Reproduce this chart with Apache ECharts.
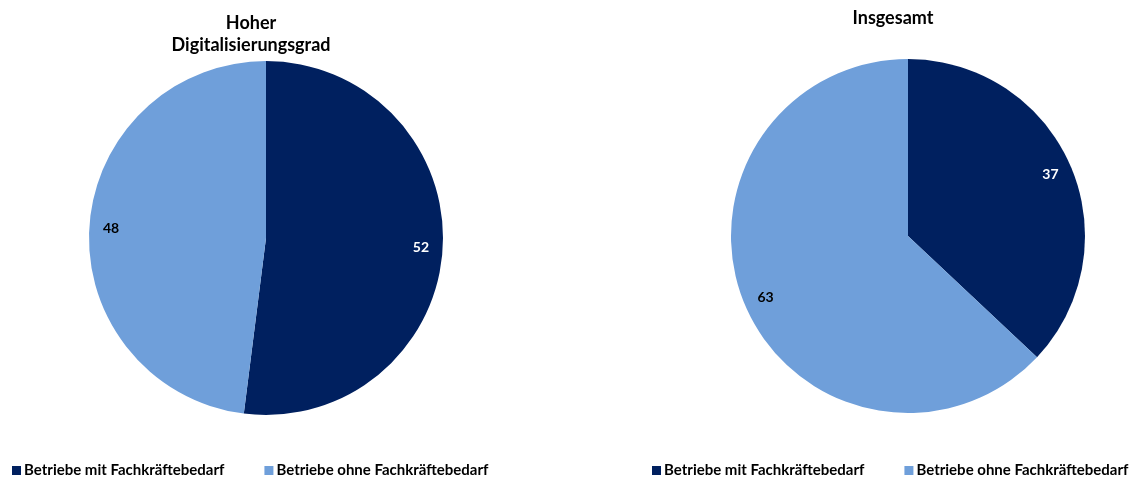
<!DOCTYPE html>
<html>
<head>
<meta charset="utf-8">
<script src="https://cdn.jsdelivr.net/npm/echarts@6/dist/echarts.min.js"></script>
<style>
  html, body { margin: 0; padding: 0; background: #fff; }
  #chart { width: 1134px; height: 484px; }
</style>
</head>
<body>
<div id="chart"></div>
<script>
// Kategorien und Anteile (in %)
const categories = ['Betriebe mit Fachkräftebedarf', 'Betriebe ohne Fachkräftebedarf'];
const hoherDigitalisierungsgrad = [52, 48];
const insgesamt = [37, 63];
const titles = ['Hoher\nDigitalisierungsgrad', 'Insgesamt'];

const colors = ['#00205F', '#6F9FDA'];
const labelColors = ['#ffffff', '#000000'];
const fontFamily = 'Lato, "Open Sans", sans-serif';

function toData(values) {
  return values.map((v, i) => ({
    name: categories[i],
    value: v,
    itemStyle: { color: colors[i] }
  }));
}

const R = 177;
const pies = [
  { values: hoherDigitalisierungsgrad, center: [266, 238] },
  { values: insgesamt, center: [908, 236] }
];

const series = [];
pies.forEach(p => {
  // Tortenstücke
  series.push({
    type: 'pie',
    center: p.center,
    radius: [0, R],
    startAngle: 90,
    clockwise: true,
    silent: true,
    label: { show: false },
    labelLine: { show: false },
    itemStyle: { borderWidth: 0 },
    data: toData(p.values)
  });
  // Wertbeschriftungen nahe am Rand (Ring, dessen Mitte die Beschriftung trägt)
  series.push({
    type: 'pie',
    center: p.center,
    radius: [R * 0.72, R],
    startAngle: 90,
    clockwise: true,
    silent: true,
    legendHoverLink: false,
    itemStyle: { color: 'rgba(0,0,0,0)', borderWidth: 0 },
    label: {
      show: true,
      position: 'inside',
      formatter: '{c}',
      fontFamily: fontFamily,
      fontWeight: 'bold',
      fontSize: 14
    },
    labelLine: { show: false },
    data: p.values.map((v, i) => ({
      name: categories[i] + ' ',
      value: v,
      label: { color: labelColors[i] },
      itemStyle: { color: 'rgba(0,0,0,0)' }
    }))
  });
});

const legendBase = {
  data: categories,
  top: 463,
  padding: 0,
  icon: 'rect',
  itemWidth: 9,
  itemHeight: 9,
  itemGap: 40,
  selectedMode: false,
  textStyle: { fontFamily: fontFamily, fontWeight: 'bold', fontSize: 15, color: '#000', padding: [0, 0, 0, -2] }
};

const chart = echarts.init(document.getElementById('chart'), null, { renderer: 'canvas' });
chart.setOption({
  animation: false,
  backgroundColor: '#ffffff',
  title: [
    {
      text: titles[0],
      left: 246,
      top: 7,
      textAlign: 'center',
      textStyle: { fontFamily: fontFamily, fontWeight: 'bold', fontSize: 18, color: '#000', lineHeight: 22 }
    },
    {
      text: titles[1],
      left: 888,
      top: 4,
      textAlign: 'center',
      textStyle: { fontFamily: fontFamily, fontWeight: 'bold', fontSize: 18, color: '#000' }
    }
  ],
  legend: [
    Object.assign({}, legendBase, { left: 12 }),
    Object.assign({}, legendBase, { left: 652 })
  ],
  series: series
});
</script>
</body>
</html>
